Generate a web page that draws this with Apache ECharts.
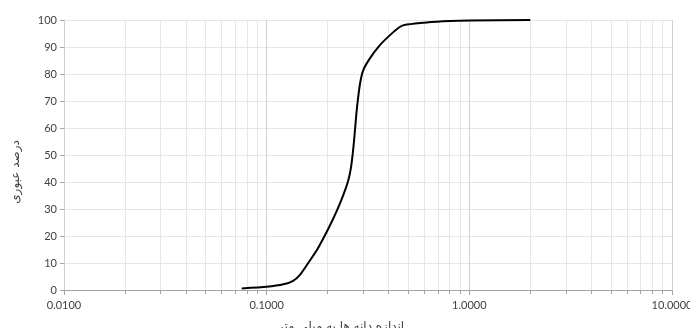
<!DOCTYPE html>
<html>
<head>
<meta charset="utf-8">
<script src="https://cdn.jsdelivr.net/npm/echarts@6/dist/echarts.min.js"></script>
<style>html,body{margin:0;padding:0;background:#fff}#c{width:690px;height:328px}</style>
</head>
<body>
<div id="c"></div>
<script>
var grainSize = [0.0753, 0.1, 0.121, 0.135, 0.146, 0.160, 0.177, 0.2, 0.221, 0.239, 0.253, 0.261, 0.266, 0.270, 0.274, 0.279, 0.289, 0.3, 0.323, 0.362, 0.406, 0.455, 0.491, 0.615, 0.8, 1.0, 2.0];
var percentPassing = [0.6, 1.2, 2.1, 3.4, 5.6, 9.9, 14.8, 22.2, 29.0, 35.2, 40.7, 45.7, 50.6, 55.5, 61.0, 67.5, 76.5, 81.5, 85.8, 90.7, 94.4, 97.5, 98.3, 99.1, 99.6, 99.8, 100];
var yTicks = [0, 10, 20, 30, 40, 50, 60, 70, 80, 90, 100];
var xTitle = 'اندازه دانه ها به میلی متر';
var yTitle = 'درصد عبوری';

var chart = echarts.init(document.getElementById('c'));
chart.setOption({
  animation: false,
  grid: {left: 64, right: 18, top: 20, bottom: 38, outerBoundsMode: 'none', containLabel: false},
  xAxis: {
    type: 'log', logBase: 10, min: 0.01, max: 10,
    name: xTitle, nameLocation: 'middle', nameGap: 31,
    nameTextStyle: {fontFamily: 'DejaVu Sans', fontSize: 12, color: '#404040', padding: [0, 54, 0, 0]},
    axisLine: {lineStyle: {color: '#a6a6a6'}},
    axisTick: {length: 5, lineStyle: {color: '#a6a6a6'}},
    minorTick: {show: true, splitNumber: 9, length: 4, lineStyle: {color: '#a6a6a6'}},
    axisLabel: {fontFamily: 'Lato', fontSize: 11, color: '#404040', margin: 10,
      formatter: function (v) { return Number(v).toFixed(4); }},
    splitLine: {show: true, lineStyle: {color: '#d0d0d0'}},
    minorSplitLine: {show: true, lineStyle: {color: '#e6e6e6'}}
  },
  yAxis: {
    type: 'value', min: yTicks[0], max: yTicks[yTicks.length - 1], interval: yTicks[1] - yTicks[0],
    name: yTitle, nameLocation: 'middle', nameGap: 42, nameRotate: 90,
    nameTextStyle: {fontFamily: 'DejaVu Sans', fontSize: 12, color: '#404040', padding: [0, 34, 0, 0]},
    axisLine: {show: true, lineStyle: {color: '#d0d0d0'}},
    axisTick: {show: true, length: 4, lineStyle: {color: '#a6a6a6'}},
    axisLabel: {fontFamily: 'Lato', fontSize: 11, color: '#404040', margin: 7},
    splitLine: {show: true, lineStyle: {color: '#e6e6e6'}}
  },
  series: [{
    type: 'line',
    data: grainSize.map(function (x, i) { return [x, percentPassing[i]]; }),
    smooth: 0.2,
    showSymbol: false,
    lineStyle: {color: '#000', width: 2}
  }]
});
</script>
</body>
</html>
